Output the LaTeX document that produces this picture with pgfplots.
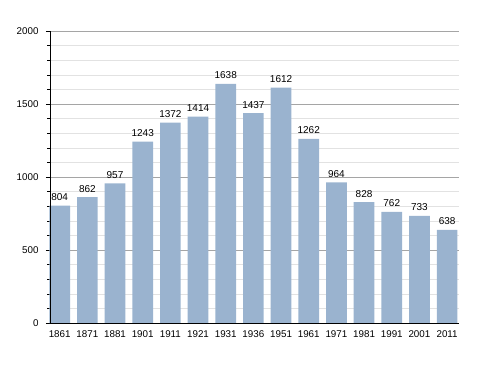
\documentclass[border=0pt]{standalone}
\usepackage{pgfplots}
\pgfplotsset{compat=1.18}
\usepackage{fontspec}
\setmainfont{Liberation Sans}
\definecolor{barc}{RGB}{154,179,207}
\definecolor{majg}{RGB}{165,165,165}
\definecolor{ming}{RGB}{226,226,226}
\begin{document}
\begin{tikzpicture}[x=1pt,y=1pt]
\begin{axis}[
  at={(0,0)}, anchor=south west,
  scale only axis, width=409pt, height=292pt,
  xmin=-0.35, xmax=14.43, ymin=0, ymax=2000,
  axis x line*=bottom, axis y line*=left,
  axis line style={black, line width=0.8pt},
  xtick=data,
  xticklabels={1861,1871,1881,1901,1911,1921,1931,1936,1951,1961,1971,1981,1991,2001,2011},
  x tick style={draw=none},
  ytick={0,500,1000,1500,2000},
  minor ytick={100,200,300,400,600,700,800,900,1100,1200,1300,1400,1600,1700,1800,1900},
  ymajorgrids, yminorgrids,
  major grid style={majg, line width=0.7pt},
  minor grid style={ming, line width=0.6pt},
  tick align=outside,
  major tick length=4pt, minor tick length=2.5pt,
  y tick style={black, line width=0.6pt},
  tick label style={font=\fontsize{9.8}{11}\selectfont},
  /pgf/number format/assume math mode=true,
  yticklabel style={/pgf/number format/1000 sep={}, xshift=-4pt},
  xticklabel style={yshift=-0.5pt},
  axis on top=false,
  clip=false,
]
\addplot[ybar, bar width=20.7pt, fill=barc, draw=none,
  nodes near coords,
  every node near coord/.append style={font=\fontsize{10}{12}\selectfont, anchor=base, yshift=5pt, black},
  point meta=explicit symbolic]
  coordinates {
  (0,804) [804] (1,862) [862] (2,957) [957] (3,1243) [1243] (4,1372) [1372]
  (5,1414) [1414] (6,1638) [1638] (7,1437) [1437] (8,1612) [1612] (9,1262) [1262]
  (10,964) [964] (11,828) [828] (12,762) [762] (13,733) [733] (14,638) [638]
  };
\draw[black, line width=0.8pt] (axis cs:-0.35,0) -- (axis cs:14.43,0);
\draw[black, line width=0.8pt] (axis cs:-0.35,0) -- (axis cs:-0.35,2000);
\end{axis}
\pgfresetboundingbox
\useasboundingbox (-50,-50) rectangle (438,323);
\end{tikzpicture}
\end{document}
